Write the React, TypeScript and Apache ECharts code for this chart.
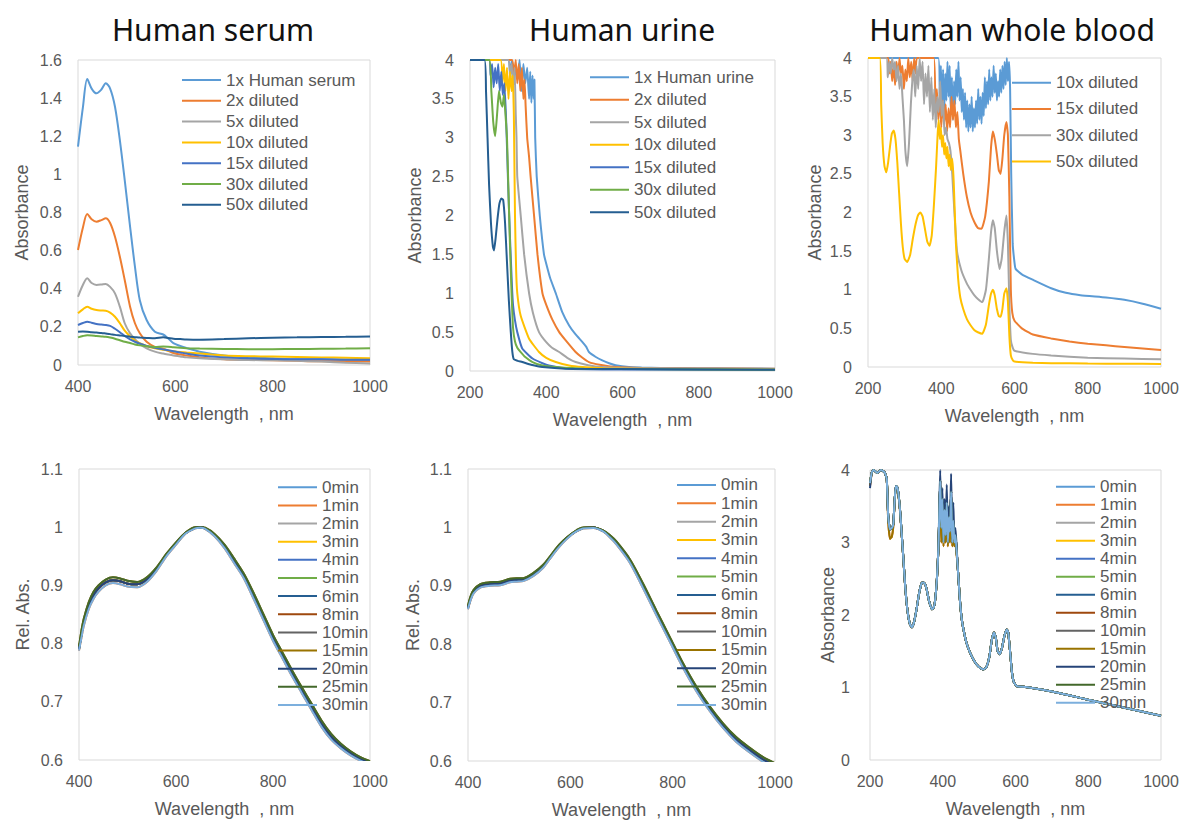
import React, { useEffect, useRef } from "react";
import * as echarts from "echarts";

// ---------- text ----------
const panelTitles = ["Human serum", "Human urine", "Human whole blood"];
const xName = "Wavelength  , nm";
const serumNames = ["1x Human serum", "2x diluted", "5x diluted", "10x diluted", "15x diluted", "30x diluted", "50x diluted"];
const urineNames = ["1x Human urine", "2x diluted", "5x diluted", "10x diluted", "15x diluted", "30x diluted", "50x diluted"];
const bloodNames = ["10x diluted", "15x diluted", "30x diluted", "50x diluted"];
const timeNames = ["0min", "1min", "2min", "3min", "4min", "5min", "6min", "8min", "10min", "15min", "20min", "25min", "30min"];

const PALETTE = ["#5B9BD5", "#ED7D31", "#A5A5A5", "#FFC000", "#4472C4", "#70AD47", "#255E91", "#9E480E", "#636363", "#997300", "#264478", "#43682B", "#7CAFDD"];

// ---------- Panel 1: human serum dilutions ----------
const serumWl = [400, 410, 419, 428, 438, 448, 457, 466, 476, 486, 496, 507, 517, 527, 541, 558, 575, 585, 596, 610, 623, 650, 700, 750, 800, 850, 900, 950, 1000];
const serum1x = [1.145, 1.35, 1.5, 1.45, 1.425, 1.445, 1.478, 1.45, 1.355, 1.18, 0.97, 0.726, 0.516, 0.34, 0.236, 0.175, 0.16, 0.14, 0.115, 0.1, 0.089, 0.07, 0.05, 0.04, 0.035, 0.03, 0.03, 0.028, 0.025];
const serum2x = [0.603, 0.72, 0.792, 0.765, 0.752, 0.76, 0.77, 0.745, 0.673, 0.568, 0.446, 0.306, 0.219, 0.167, 0.122, 0.095, 0.085, 0.075, 0.063, 0.055, 0.05, 0.04, 0.03, 0.027, 0.025, 0.022, 0.02, 0.02, 0.018];
const serum5x = [0.358, 0.42, 0.455, 0.43, 0.42, 0.422, 0.425, 0.41, 0.376, 0.306, 0.219, 0.166, 0.135, 0.11, 0.087, 0.07, 0.06, 0.055, 0.05, 0.045, 0.04, 0.035, 0.03, 0.026, 0.025, 0.022, 0.018, 0.012, 0.008];
const serum10x = [0.271, 0.292, 0.306, 0.295, 0.288, 0.286, 0.285, 0.275, 0.253, 0.219, 0.18, 0.15, 0.128, 0.115, 0.1, 0.088, 0.08, 0.076, 0.072, 0.068, 0.065, 0.06, 0.05, 0.046, 0.044, 0.042, 0.04, 0.038, 0.036];
const serum15x = [0.21, 0.22, 0.227, 0.222, 0.215, 0.212, 0.21, 0.205, 0.19, 0.172, 0.152, 0.135, 0.122, 0.112, 0.1, 0.09, 0.082, 0.078, 0.072, 0.066, 0.06, 0.05, 0.04, 0.035, 0.032, 0.03, 0.03, 0.028, 0.028];
const serum30x = [0.145, 0.152, 0.156, 0.155, 0.152, 0.15, 0.148, 0.144, 0.138, 0.13, 0.122, 0.115, 0.108, 0.103, 0.098, 0.095, 0.097, 0.096, 0.093, 0.09, 0.088, 0.086, 0.084, 0.083, 0.083, 0.084, 0.085, 0.086, 0.088];
const serum50x = [0.175, 0.176, 0.175, 0.172, 0.17, 0.168, 0.165, 0.162, 0.158, 0.155, 0.152, 0.148, 0.146, 0.144, 0.142, 0.14, 0.145, 0.142, 0.138, 0.136, 0.134, 0.133, 0.136, 0.14, 0.143, 0.145, 0.147, 0.148, 0.15];

// ---------- Panel 2: human urine dilutions ([wavelength, absorbance]) ----------
const urine1x = [[200, 4], [300, 4], [305, 3.85], [310, 4], [315, 3.7], [320, 3.9], [325, 3.75], [330, 4], [335, 3.6], [340, 3.95], [345, 3.7], [350, 3.9], [355, 3.5], [358, 3.85], [361, 3.45], [364, 3.8], [367, 3.5], [369, 3.75], [371, 3.0], [375, 2.5], [383, 2.0], [394, 1.5], [400, 1.38], [410, 1.2], [425, 1.0], [442, 0.757], [460, 0.586], [477, 0.47], [495, 0.372], [505, 0.31], [512, 0.244], [530, 0.18], [547, 0.137], [565, 0.1], [582, 0.073], [617, 0.05], [650, 0.045], [700, 0.04], [800, 0.035], [900, 0.033], [1000, 0.03]];
const urine2x = [[200, 4], [310, 4], [315, 3.8], [320, 4], [324, 3.7], [328, 3.95], [332, 3.6], [336, 3.9], [340, 3.5], [343, 3.75], [346, 3.4], [350, 3.0], [355, 2.75], [359, 2.5], [368, 2.0], [377, 1.5], [390, 1.0], [400, 0.85], [416, 0.66], [434, 0.5], [450, 0.4], [477, 0.244], [495, 0.17], [512, 0.115], [540, 0.08], [582, 0.05], [650, 0.04], [800, 0.033], [1000, 0.03]];
const urine5x = [[200, 4], [300, 4], [305, 3.8], [309, 3.95], [313, 3.65], [317, 3.9], [320, 3.3], [322, 3.0], [324, 2.5], [333, 2.0], [342, 1.5], [355, 1.0], [365, 0.75], [381, 0.5], [400, 0.37], [415, 0.3], [434, 0.244], [455, 0.17], [477, 0.115], [510, 0.075], [547, 0.05], [600, 0.04], [800, 0.03], [1000, 0.025]];
const urine10x = [[200, 4], [280, 4], [285, 3.7], [289, 3.95], [293, 3.6], [297, 3.9], [301, 3.5], [305, 3.85], [309, 3.6], [312, 3.8], [315, 3.3], [318, 2.0], [321, 1.3], [324, 1.0], [333, 0.71], [355, 0.415], [381, 0.244], [400, 0.17], [425, 0.115], [460, 0.07], [495, 0.05], [550, 0.035], [700, 0.025], [1000, 0.02]];
const urine15x = [[200, 4], [250, 4], [254, 3.8], [258, 3.95], [262, 3.65], [266, 3.9], [270, 3.7], [274, 3.95], [278, 3.6], [282, 3.85], [286, 3.55], [290, 3.7], [295, 3.2], [300, 2.4], [305, 1.7], [310, 1.1], [313, 0.84], [318, 0.65], [324, 0.5], [337, 0.29], [364, 0.16], [390, 0.1], [407, 0.07], [460, 0.03], [600, 0.02], [1000, 0.015]];
const urine30x = [[200, 4], [250, 4], [256, 3.6], [261, 3.2], [266, 3.02], [271, 3.3], [276, 3.6], [281, 3.45], [285, 3.4], [289, 3.55], [293, 3.3], [297, 3.0], [301, 2.3], [305, 1.6], [309, 1.0], [313, 0.55], [318, 0.38], [324, 0.3], [333, 0.244], [345, 0.18], [364, 0.115], [390, 0.07], [425, 0.05], [500, 0.03], [1000, 0.015]];
const urine50x = [[200, 4], [238, 4], [242, 3.6], [246, 3.0], [250, 2.4], [255, 1.9], [260, 1.6], [263, 1.55], [267, 1.7], [272, 1.95], [277, 2.15], [282, 2.22], [287, 2.2], [292, 1.9], [297, 1.4], [302, 0.9], [307, 0.5], [311, 0.25], [315, 0.15], [325, 0.13], [337, 0.115], [360, 0.08], [390, 0.05], [450, 0.03], [1000, 0.015]];

// ---------- Panel 3: human whole blood dilutions ----------
const blood10x = [[200, 4], [392, 4], [396, 3.5], [399, 3.9], [402, 3.4], [405, 3.85], [408, 3.3], [411, 3.8], [414, 3.45], [417, 3.95], [420, 3.5], [423, 3.9], [426, 3.3], [429, 3.75], [432, 3.2], [435, 3.7], [438, 3.4], [441, 3.85], [444, 3.5], [447, 3.95], [450, 3.45], [453, 3.75], [456, 3.3], [459, 3.6], [462, 3.2], [465, 3.55], [468, 3.1], [471, 3.45], [474, 3.05], [477, 3.4], [480, 3.1], [483, 3.5], [486, 3.05], [489, 3.35], [492, 3.1], [495, 3.45], [498, 3.15], [501, 3.6], [504, 3.2], [507, 3.5], [510, 3.15], [513, 3.55], [516, 3.25], [519, 3.75], [522, 3.35], [525, 3.7], [528, 3.4], [531, 3.85], [534, 3.45], [537, 3.75], [540, 3.5], [543, 3.9], [546, 3.55], [549, 3.8], [552, 3.45], [555, 3.7], [558, 3.5], [561, 3.85], [564, 3.55], [567, 3.9], [570, 3.6], [573, 3.95], [576, 3.65], [579, 4], [582, 3.7], [585, 3.95], [588, 3.6], [591, 2.5], [595, 1.6], [600, 1.35], [603, 1.27], [620, 1.2], [650, 1.13], [700, 1.02], [740, 0.96], [780, 0.93], [850, 0.9], [900, 0.87], [950, 0.82], [1000, 0.755]];
const blood15x = [[200, 4], [255, 4], [258, 3.8], [262, 3.95], [266, 3.7], [270, 3.9], [274, 3.65], [278, 3.95], [282, 3.75], [286, 4], [290, 3.8], [294, 3.9], [298, 3.6], [302, 3.85], [306, 3.7], [310, 4], [314, 3.75], [318, 3.95], [322, 3.7], [326, 4], [330, 3.8], [334, 4], [380, 4], [384, 3.3], [388, 3.6], [392, 3.2], [396, 3.5], [400, 3.1], [404, 3.45], [408, 3.15], [412, 3.4], [416, 3.05], [420, 3.35], [424, 3.1], [428, 3.5], [432, 3.2], [436, 3.45], [440, 3.1], [444, 3.3], [448, 2.95], [452, 2.8], [460, 2.5], [470, 2.2], [480, 2.0], [490, 1.88], [500, 1.8], [510, 1.79], [520, 1.95], [530, 2.4], [536, 2.85], [541, 3.05], [546, 2.95], [552, 2.75], [557, 2.55], [562, 2.5], [567, 2.7], [572, 3.0], [578, 3.17], [582, 3.0], [586, 2.2], [590, 1.0], [594, 0.7], [600, 0.6], [620, 0.5], [650, 0.42], [700, 0.37], [750, 0.33], [800, 0.3], [850, 0.28], [900, 0.26], [950, 0.24], [1000, 0.22]];
const blood30x = [[200, 4], [250, 4], [254, 3.75], [258, 3.95], [262, 3.8], [266, 4], [270, 3.85], [274, 3.95], [278, 3.7], [282, 3.9], [286, 3.6], [290, 3.8], [294, 3.5], [298, 3.2], [302, 2.8], [307, 2.6], [312, 2.9], [317, 3.4], [321, 3.7], [325, 3.85], [329, 3.5], [333, 3.9], [337, 3.6], [341, 4], [345, 3.7], [349, 3.95], [353, 3.4], [357, 3.8], [361, 3.5], [365, 3.9], [369, 3.3], [373, 3.75], [377, 3.2], [381, 3.6], [385, 3.1], [389, 3.5], [393, 3.3], [397, 3.7], [401, 3.25], [405, 3.45], [409, 3.0], [413, 3.1], [417, 2.95], [421, 2.9], [425, 2.8], [430, 2.5], [436, 2.0], [443, 1.5], [455, 1.25], [470, 1.08], [480, 1.0], [490, 0.93], [500, 0.88], [512, 0.84], [522, 1.0], [530, 1.4], [536, 1.75], [541, 1.9], [546, 1.8], [552, 1.5], [559, 1.27], [565, 1.4], [572, 1.75], [578, 1.96], [582, 1.6], [586, 0.8], [590, 0.35], [595, 0.25], [600, 0.21], [650, 0.17], [700, 0.15], [800, 0.12], [900, 0.11], [1000, 0.1]];
const blood50x = [[200, 4], [232, 4], [236, 3.4], [240, 2.9], [245, 2.6], [250, 2.52], [255, 2.65], [260, 2.85], [265, 3.02], [270, 3.06], [275, 2.95], [280, 2.65], [285, 2.25], [290, 1.85], [295, 1.55], [300, 1.4], [307, 1.36], [315, 1.45], [322, 1.65], [330, 1.85], [337, 1.97], [343, 2.0], [349, 1.95], [355, 1.8], [362, 1.62], [368, 1.57], [374, 1.7], [380, 2.1], [386, 2.6], [390, 3.0], [393, 3.2], [396, 2.95], [399, 3.1], [402, 2.85], [405, 3.0], [408, 2.75], [411, 2.9], [414, 2.7], [417, 2.85], [420, 2.6], [423, 2.75], [426, 2.55], [430, 2.7], [434, 2.4], [440, 1.6], [446, 1.15], [452, 0.9], [460, 0.75], [470, 0.62], [480, 0.54], [490, 0.48], [500, 0.45], [512, 0.43], [522, 0.55], [530, 0.8], [536, 0.95], [541, 1.0], [546, 0.93], [552, 0.75], [557, 0.66], [562, 0.65], [567, 0.75], [572, 0.95], [578, 1.02], [582, 0.85], [586, 0.4], [590, 0.15], [595, 0.09], [600, 0.07], [650, 0.055], [700, 0.05], [800, 0.045], [900, 0.042], [1000, 0.04]];

// ---------- Panel 4: serum, relative absorbance over time ----------
const relSerumWl = [400, 405, 410, 420, 430, 440, 455, 470, 485, 500, 520, 540, 560, 580, 600, 620, 640, 650, 660, 680, 700, 720, 740, 760, 780, 800, 820, 840, 860, 880, 900, 920, 940, 960, 980, 1000];
const relSerumUpper = [0.795, 0.822, 0.843, 0.871, 0.889, 0.9, 0.91, 0.914, 0.912, 0.908, 0.906, 0.914, 0.931, 0.954, 0.974, 0.991, 1.0, 1.0, 0.999, 0.988, 0.97, 0.946, 0.92, 0.887, 0.851, 0.815, 0.784, 0.753, 0.724, 0.696, 0.668, 0.645, 0.628, 0.615, 0.605, 0.598];
const relSerumMid = [0.791, 0.815, 0.837, 0.865, 0.883, 0.895, 0.905, 0.909, 0.907, 0.903, 0.902, 0.91, 0.928, 0.952, 0.972, 0.99, 0.999, 1.0, 0.998, 0.986, 0.967, 0.942, 0.916, 0.882, 0.846, 0.81, 0.779, 0.748, 0.719, 0.69, 0.662, 0.64, 0.624, 0.612, 0.602, 0.595];
const relSerumLower = [0.788, 0.81, 0.831, 0.859, 0.877, 0.889, 0.9, 0.904, 0.902, 0.898, 0.897, 0.906, 0.925, 0.95, 0.97, 0.989, 0.998, 0.999, 0.997, 0.984, 0.964, 0.938, 0.912, 0.877, 0.841, 0.805, 0.774, 0.743, 0.714, 0.685, 0.657, 0.635, 0.62, 0.608, 0.599, 0.592];

// ---------- Panel 5: urine, relative absorbance over time ----------
const relUrineWl = [400, 405, 411, 424, 443, 463, 482, 495, 508, 528, 547, 560, 573, 586, 599, 612, 625, 645, 664, 677, 690, 716, 742, 768, 794, 820, 846, 872, 898, 924, 950, 976, 1000];
const relUrineUpper = [0.866, 0.882, 0.893, 0.903, 0.906, 0.907, 0.912, 0.913, 0.913, 0.922, 0.936, 0.95, 0.965, 0.977, 0.987, 0.995, 1.0, 1.0, 0.995, 0.987, 0.976, 0.946, 0.904, 0.858, 0.813, 0.768, 0.728, 0.694, 0.665, 0.641, 0.623, 0.607, 0.596];
const relUrineMid = [0.863, 0.878, 0.89, 0.9, 0.903, 0.904, 0.909, 0.91, 0.911, 0.92, 0.934, 0.948, 0.963, 0.976, 0.986, 0.994, 0.999, 1.0, 0.994, 0.985, 0.974, 0.943, 0.9, 0.854, 0.809, 0.764, 0.724, 0.69, 0.661, 0.637, 0.619, 0.603, 0.592];
const relUrineLower = [0.86, 0.875, 0.887, 0.897, 0.9, 0.901, 0.906, 0.907, 0.908, 0.917, 0.931, 0.946, 0.961, 0.974, 0.985, 0.993, 0.998, 0.999, 0.993, 0.983, 0.971, 0.94, 0.896, 0.85, 0.805, 0.76, 0.72, 0.686, 0.657, 0.633, 0.615, 0.599, 0.588];

// ---------- Panel 6: whole blood, absorbance over time ----------
const bloodTimeWl = [200, 205, 210, 220, 230, 240, 246, 250, 255, 260, 264, 268, 271, 275, 278, 283, 287, 292, 296, 300, 305, 310, 315, 321, 328, 335, 342, 347, 352, 356, 362, 370, 375, 379, 384, 388, 391, 393, 396, 399, 402, 405, 408, 411, 414, 417, 420, 423, 426, 429, 432, 435, 438, 442, 447, 452, 457, 465, 475, 485, 493, 503, 512, 520, 528, 535, 541, 546, 551, 557, 563, 570, 576, 580, 585, 590, 595, 603, 622, 650, 700, 750, 800, 850, 900, 950, 1000];
const bloodTimeA = [3.82, 3.97, 4, 3.96, 4, 3.97, 3.88, 3.37, 3.18, 3.2, 3.25, 3.6, 3.78, 3.76, 3.68, 3.42, 3.13, 2.76, 2.45, 2.2, 1.99, 1.87, 1.83, 1.9, 2.08, 2.3, 2.44, 2.45, 2.42, 2.35, 2.2, 2.08, 2.1, 2.2, 2.5, 2.91, 3.5, 3.85, 3.2, 3.6, 3.0, 3.45, 3.1, 3.55, 3.0, 3.35, 3.15, 3.7, 3.0, 3.3, 3.0, 3.1, 2.9, 2.6, 2.22, 1.95, 1.8, 1.62, 1.48, 1.38, 1.32, 1.27, 1.25, 1.28, 1.42, 1.66, 1.76, 1.68, 1.5, 1.46, 1.55, 1.72, 1.8, 1.76, 1.5, 1.22, 1.08, 1.02, 1.01, 0.99, 0.945, 0.89, 0.83, 0.775, 0.72, 0.665, 0.61];
const bloodTimeB = [3.75, 3.97, 4, 3.96, 4, 3.97, 3.88, 3.37, 3.18, 3.2, 3.25, 3.6, 3.78, 3.76, 3.68, 3.42, 3.13, 2.76, 2.45, 2.2, 1.99, 1.87, 1.83, 1.9, 2.08, 2.3, 2.44, 2.45, 2.42, 2.35, 2.2, 2.08, 2.1, 2.2, 2.5, 2.91, 3.6, 4, 3.3, 3.75, 3.1, 3.6, 3.2, 3.8, 3.1, 3.5, 3.3, 3.95, 3.1, 3.55, 3.05, 3.2, 2.95, 2.6, 2.22, 1.95, 1.8, 1.62, 1.48, 1.38, 1.32, 1.27, 1.25, 1.28, 1.42, 1.66, 1.76, 1.68, 1.5, 1.46, 1.55, 1.72, 1.8, 1.76, 1.5, 1.22, 1.08, 1.02, 1.01, 0.99, 0.945, 0.89, 0.83, 0.775, 0.72, 0.665, 0.61];
const bloodTimeC = [3.78, 3.97, 4, 3.96, 4, 3.97, 3.88, 3.3, 3.05, 3.08, 3.22, 3.58, 3.76, 3.74, 3.66, 3.4, 3.12, 2.75, 2.44, 2.2, 1.99, 1.87, 1.83, 1.9, 2.08, 2.3, 2.44, 2.45, 2.42, 2.35, 2.2, 2.08, 2.1, 2.2, 2.5, 2.91, 3.4, 3.6, 3.0, 3.3, 2.95, 3.2, 3.0, 3.4, 2.95, 3.2, 3.0, 3.5, 2.95, 3.1, 2.95, 3.05, 2.85, 2.6, 2.22, 1.95, 1.8, 1.62, 1.48, 1.38, 1.32, 1.27, 1.25, 1.28, 1.42, 1.66, 1.76, 1.68, 1.5, 1.46, 1.55, 1.72, 1.8, 1.76, 1.5, 1.22, 1.08, 1.02, 1.01, 0.99, 0.945, 0.89, 0.83, 0.775, 0.72, 0.665, 0.61];

// ---------- helpers ----------
const zip = (xs: number[], ys: number[]) => xs.map((x, i) => [x, ys[i]]);
const FONT = "'Liberation Sans', Arial, sans-serif";
const TXT = "#595959";

type Panel = {
  grid: { left: number; top: number; width: number; height: number };
  xMin: number;
  yMin: number;
  yMax: number;
  yStep: number;
  yName: string;
  yNameGap: number;
  yLabelMargin: number;
  legend: { left: number; top: number; pitch: number };
  names: string[];
  colors: string[];
  data: number[][][];
  smooth: number;
};

const serumData = [serum1x, serum2x, serum5x, serum10x, serum15x, serum30x, serum50x].map((v) => zip(serumWl, v));
const relSerumSets = [relSerumMid, relSerumLower, relSerumMid, relSerumMid, relSerumMid, relSerumMid, relSerumMid, relSerumMid, relSerumMid, relSerumUpper, relSerumMid, relSerumUpper, relSerumLower];
const relUrineSets = [relUrineMid, relUrineLower, relUrineMid, relUrineMid, relUrineMid, relUrineMid, relUrineMid, relUrineMid, relUrineMid, relUrineUpper, relUrineMid, relUrineUpper, relUrineLower];
const bloodTimeSets = [bloodTimeA, bloodTimeC, bloodTimeA, bloodTimeA, bloodTimeA, bloodTimeA, bloodTimeA, bloodTimeA, bloodTimeA, bloodTimeC, bloodTimeB, bloodTimeA, bloodTimeA];

const panels: Panel[] = [
  {
    grid: { left: 78, top: 60, width: 292, height: 305 }, xMin: 400, yMin: 0, yMax: 1.6, yStep: 0.2,
    yName: "Absorbance", yNameGap: 47, yLabelMargin: 16, legend: { left: 182, top: 69.6, pitch: 20.8 },
    names: serumNames, colors: PALETTE.slice(0, 7), data: serumData, smooth: 0.3,
  },
  {
    grid: { left: 470, top: 60, width: 305, height: 311 }, xMin: 200, yMin: 0, yMax: 4, yStep: 0.5,
    yName: "Absorbance", yNameGap: 46, yLabelMargin: 16, legend: { left: 590, top: 66, pitch: 22.5 },
    names: urineNames, colors: PALETTE.slice(0, 7), data: [urine1x, urine2x, urine5x, urine10x, urine15x, urine30x, urine50x], smooth: 0.15,
  },
  {
    grid: { left: 868, top: 58, width: 293, height: 309 }, xMin: 200, yMin: 0, yMax: 4, yStep: 0.5,
    yName: "Absorbance", yNameGap: 44, yLabelMargin: 16, legend: { left: 1012, top: 69.5, pitch: 26.3 },
    names: bloodNames, colors: PALETTE.slice(0, 4), data: [blood10x, blood15x, blood30x, blood50x], smooth: 0.15,
  },
  {
    grid: { left: 79, top: 469, width: 291, height: 291 }, xMin: 400, yMin: 0.6, yMax: 1.1, yStep: 0.1,
    yName: "Rel. Abs.", yNameGap: 47, yLabelMargin: 16, legend: { left: 278, top: 478.2, pitch: 18.14 },
    names: timeNames, colors: PALETTE, data: relSerumSets.map((v) => zip(relSerumWl, v)), smooth: 0.3,
  },
  {
    grid: { left: 468, top: 469, width: 307, height: 292 }, xMin: 400, yMin: 0.6, yMax: 1.1, yStep: 0.1,
    yName: "Rel. Abs.", yNameGap: 46, yLabelMargin: 16, legend: { left: 677, top: 475.8, pitch: 18.33 },
    names: timeNames, colors: PALETTE, data: relUrineSets.map((v) => zip(relUrineWl, v)), smooth: 0.3,
  },
  {
    grid: { left: 870, top: 470, width: 291, height: 290 }, xMin: 200, yMin: 0, yMax: 4, yStep: 1,
    yName: "Absorbance", yNameGap: 33, yLabelMargin: 20, legend: { left: 1056, top: 477.7, pitch: 18 },
    names: timeNames, colors: PALETTE, data: bloodTimeSets.map((v) => zip(bloodTimeWl, v)), smooth: 0.15,
  },
];

const titleCenters = [213, 622, 1012];

function buildOption() {
  const grid: any[] = [];
  const xAxis: any[] = [];
  const yAxis: any[] = [];
  const legend: any[] = [];
  const series: any[] = [];

  panels.forEach((p, i) => {
    grid.push({ ...p.grid, show: true, borderColor: "#d9d9d9", borderWidth: 1, containLabel: false });
    xAxis.push({
      type: "value", gridIndex: i, min: p.xMin, max: 1000, interval: 200,
      name: xName, nameLocation: "middle", nameGap: 40,
      nameTextStyle: { fontSize: 18, color: TXT, fontFamily: FONT },
      axisLine: { show: false }, axisTick: { show: false }, splitLine: { show: false },
      axisLabel: { fontSize: 16, color: TXT, fontFamily: FONT, margin: 13, formatter: (v: number) => String(v) },
    });
    yAxis.push({
      type: "value", gridIndex: i, min: p.yMin, max: p.yMax, interval: p.yStep,
      name: p.yName, nameLocation: "middle", nameGap: p.yNameGap,
      nameTextStyle: { fontSize: 18, color: TXT, fontFamily: FONT },
      axisLine: { show: false }, axisTick: { show: false }, splitLine: { show: false },
      axisLabel: { fontSize: 16, color: TXT, fontFamily: FONT, margin: p.yLabelMargin },
    });
    legend.push({
      orient: "vertical", left: p.legend.left, top: p.legend.top, padding: 0,
      itemWidth: 39, itemHeight: 2, itemGap: 0, selectedMode: false, icon: "rect",
      textStyle: { fontSize: 17, color: TXT, fontFamily: FONT, lineHeight: p.legend.pitch },
      data: p.names.map((n, k) => ({
        name: n,
        icon: "rect",
        itemStyle: { color: p.colors[k], borderWidth: 0 },
      })),
    });
    p.data.forEach((d, k) => {
      series.push({
        name: p.names[k], type: "line", xAxisIndex: i, yAxisIndex: i,
        data: d, symbol: "none", showSymbol: false, smooth: p.smooth,
        color: p.colors[k], itemStyle: { color: p.colors[k] }, lineStyle: { width: 2, color: p.colors[k] },
        emphasis: { disabled: true }, clip: true,
      });
    });
  });

  const graphic = panelTitles.map((t, i) => ({
    type: "text", x: titleCenters[i], y: 29, silent: true,
    style: { text: t, fill: "#111", fontSize: 30, fontFamily: "'Noto Sans', sans-serif", align: "center", verticalAlign: "middle" },
  }));

  return { animation: false, backgroundColor: "#fff", grid, xAxis, yAxis, legend, series, graphic };
}

export default function App() {
  const ref = useRef<HTMLDivElement>(null);
  useEffect(() => {
    if (!ref.current) return;
    const chart = echarts.init(ref.current, undefined, { renderer: "svg" });
    chart.setOption(buildOption() as any);
    return () => chart.dispose();
  }, []);
  return <div ref={ref} style={{ position: "absolute", left: 0, top: 0, width: 1187, height: 821, background: "#fff" }} />;
}
